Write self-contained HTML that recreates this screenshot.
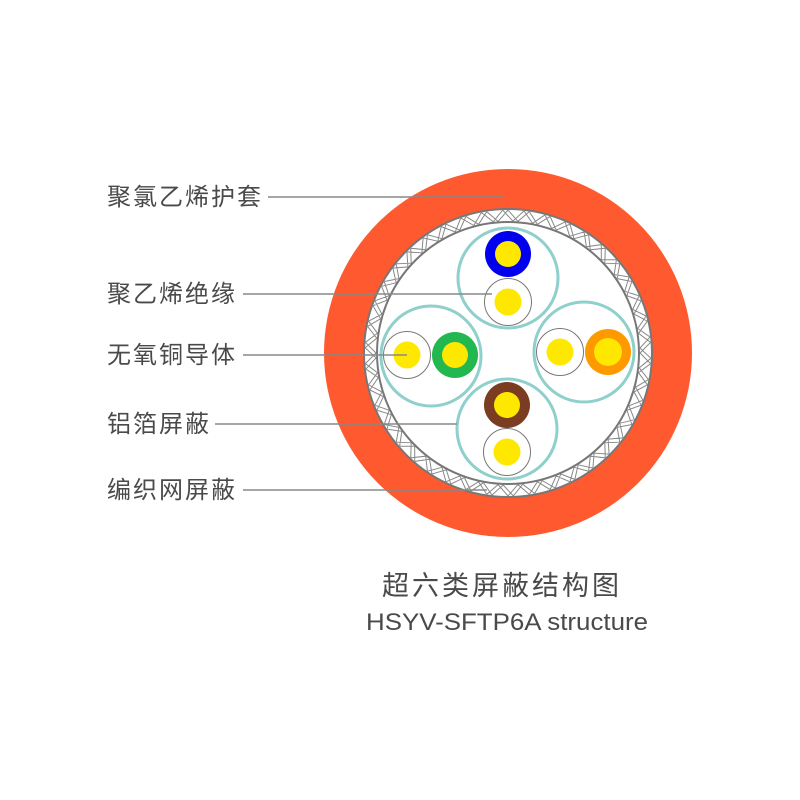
<!DOCTYPE html>
<html><head><meta charset="utf-8"><style>
html,body{margin:0;padding:0;background:#fff;}
svg{display:block}
.l{font-family:"Liberation Sans","Noto Sans CJK SC",sans-serif;fill:#4a4a4a;}
</style></head><body>
<svg id="s" width="800" height="800" viewBox="0 0 800 800">
<rect width="800" height="800" fill="#fff"/>
<circle cx="508" cy="353" r="184" fill="#ff5a2f"/>
<circle cx="508" cy="353" r="144" fill="#fff" stroke="#777" stroke-width="2"/>
<path id="zz" fill="none" stroke="#888" stroke-width="1"/>
<circle cx="508" cy="353" r="131" fill="#fff" stroke="#777" stroke-width="2"/>
<g fill="none" stroke="#8fcfcc" stroke-width="3">
<circle cx="508" cy="278" r="50"/>
<circle cx="431" cy="356" r="50"/>
<circle cx="584" cy="352" r="50"/>
<circle cx="507" cy="429" r="50"/>
</g>
<circle cx="508" cy="254" r="23" fill="#0000ee"/><circle cx="508" cy="254" r="13" fill="#ffe800"/>
<circle cx="508" cy="302" r="23.5" fill="#fff" stroke="#777" stroke-width="1"/><circle cx="508" cy="302" r="13.5" fill="#ffe800"/>
<circle cx="407" cy="355" r="23.5" fill="#fff" stroke="#777" stroke-width="1"/><circle cx="407" cy="355" r="13.5" fill="#ffe800"/>
<circle cx="455" cy="355" r="23" fill="#22b74f"/><circle cx="455" cy="355" r="13" fill="#ffe800"/>
<circle cx="560" cy="352" r="23.5" fill="#fff" stroke="#777" stroke-width="1"/><circle cx="560" cy="352" r="13.5" fill="#ffe800"/>
<circle cx="608" cy="352" r="23" fill="#ff9900"/><circle cx="608" cy="352" r="14" fill="#ffe800"/>
<circle cx="507" cy="405" r="23" fill="#7a3d22"/><circle cx="507" cy="405" r="13" fill="#ffe800"/>
<circle cx="507" cy="452" r="23.5" fill="#fff" stroke="#777" stroke-width="1"/><circle cx="507" cy="452" r="13.5" fill="#ffe800"/>
<g stroke="#888" stroke-width="1.5">
<line x1="268" y1="197" x2="504" y2="197"/>
<line x1="243" y1="294" x2="492" y2="294"/>
<line x1="243" y1="355" x2="407" y2="355"/>
<line x1="215" y1="424" x2="457" y2="424"/>
<line x1="243" y1="490" x2="487" y2="490"/>
</g>
<g class="l" font-size="24" letter-spacing="2">
<text x="107" y="205">聚氯乙烯护套</text>
<text x="107" y="302">聚乙烯绝缘</text>
<text x="107" y="363">无氧铜导体</text>
<text x="107" y="432">铝箔屏蔽</text>
<text x="107" y="498">编织网屏蔽</text>
</g>
<text class="l" x="382" y="595" font-size="27" letter-spacing="3">超六类屏蔽结构图</text>
<text class="l" x="366" y="630" font-size="24" textLength="282" lengthAdjust="spacingAndGlyphs">HSYV-SFTP6A structure</text>
</svg>
<script>
var d="",n=42,cx=508,cy=353,r1=132,r2=143;
for(var i=0;i<=n*2;i++){var a=i*Math.PI/n,r=(i%2)?r2:r1;
d+=(i?"L":"M")+(cx+r*Math.cos(a)).toFixed(1)+" "+(cy+r*Math.sin(a)).toFixed(1);}
var d2="";
for(var i=0;i<=n*2;i++){var a=(i+0.5)*Math.PI/n,r=(i%2)?r1:r2;
d2+=(i?"L":"M")+(cx+r*Math.cos(a)).toFixed(1)+" "+(cy+r*Math.sin(a)).toFixed(1);}
document.getElementById("zz").setAttribute("d",d+d2);
</script>
</body></html>
